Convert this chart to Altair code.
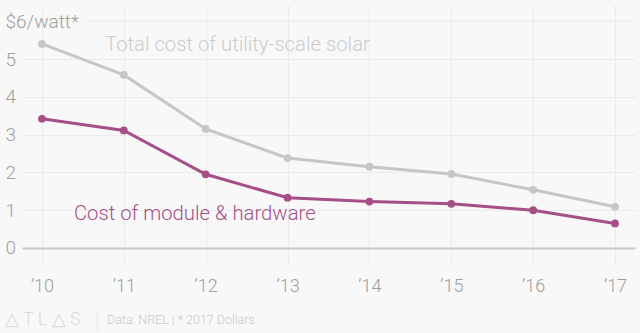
import altair as alt
import pandas as pd

years = [2010, 2011, 2012, 2013, 2014, 2015, 2016, 2017]
total_cost = [5.40, 4.58, 3.15, 2.38, 2.15, 1.96, 1.54, 1.09]
module_cost = [3.42, 3.11, 1.95, 1.33, 1.23, 1.17, 1.00, 0.65]
series_names = ["Total cost of utility-scale solar", "Cost of module & hardware"]
series_colors = ["#c6c6c6", "#a54f87"]
label_colors = ["#cccccc", "#a54f87"]
y_ticks = [0, 1, 2, 3, 4, 5, 6]

rows = []
for y, t, m in zip(years, total_cost, module_cost):
    rows.append({"year": y, "value": t, "series": series_names[0]})
    rows.append({"year": y, "value": m, "series": series_names[1]})
df = pd.DataFrame(rows)

FONT = "Roboto"
W, H = 613, 260

xscale = alt.Scale(domain=[2009.756, 2017.244], nice=False, zero=False)
yscale = alt.Scale(domain=[-0.45, 6.43], nice=False, zero=False)

color = alt.Color("series:N", scale=alt.Scale(domain=series_names, range=series_colors), legend=None)

base = alt.Chart(df).encode(
    x=alt.X("year:Q", scale=xscale, axis=alt.Axis(
        values=years, format="d", labelExpr="'\u2019' + slice(toString(datum.value), 2)",
        title=None, domain=False, ticks=False, labelPadding=12, labelFontSize=18,
        labelColor="#9e9e9e", labelFont=FONT, labelFontWeight=300,
        grid=True, gridColor="#ebebeb", gridWidth=1)),
    y=alt.Y("value:Q", scale=yscale, axis=alt.Axis(
        values=y_ticks, title=None, domain=False, ticks=False,
        labelAlign="left", labelPadding=17, labelBaseline="middle",
        labelExpr="datum.value == 6 ? '$6/watt*' : datum.label",
        labelFontSize=19, labelColor="#9e9e9e", labelFont=FONT, labelFontWeight=300,
        grid=True,
        gridColor={"condition": [{"test": "datum.value === 6", "value": "transparent"},
                                 {"test": "datum.value === 0", "value": "#c8c8c8"}],
                   "value": "#ebebeb"},
        gridWidth={"condition": {"test": "datum.value === 0", "value": 2}, "value": 1})),
    color=color,
)

lines = base.mark_line(strokeWidth=3)
points = base.mark_circle(size=60, opacity=1)

grid6 = alt.Chart(pd.DataFrame({"v": [6]})).mark_rule(color="#ebebeb", strokeWidth=1).encode(
    y=alt.Y("v:Q", scale=yscale), x=alt.value(66), x2=alt.value(W))

ann = pd.DataFrame({
    "x": [2010.77, 2010.39],
    "y": [5.37, 0.90],
    "t": series_names,
    "c": label_colors,
})
labels = alt.Chart(ann).mark_text(align="left", baseline="middle", fontSize=20.3, font=FONT, fontWeight=300).encode(
    x=alt.X("x:Q", scale=xscale), y=alt.Y("y:Q", scale=yscale),
    text="t:N", color=alt.Color("c:N", scale=None))

footer_logo = alt.Chart(pd.DataFrame({"t": ["\u25b3 T L \u25b3 S"]})).mark_text(
    align="left", baseline="middle", fontSize=18, font=FONT, fontWeight=300, color="#d8d8d8").encode(
    text="t:N", x=alt.value(-17), y=alt.value(315))
footer_sep = alt.Chart(pd.DataFrame({"t": ["|"]})).mark_text(
    align="left", baseline="middle", fontSize=22, font=FONT, fontWeight=100, color="#d8d8d8").encode(
    text="t:N", x=alt.value(73), y=alt.value(315))
footer_src = alt.Chart(pd.DataFrame({"t": ["Data: NREL | * 2017 Dollars"]})).mark_text(
    align="left", baseline="middle", fontSize=12.5, font=FONT, fontWeight=300, color="#c8c8c8").encode(
    text="t:N", x=alt.value(85), y=alt.value(315))

chart = alt.layer(grid6, lines, points, labels, footer_logo, footer_sep, footer_src).properties(
    width=W, height=H,
    autosize=alt.AutoSizeParams(type="none"),
    padding={"left": 22, "top": 5, "right": 5, "bottom": 68},
    background="#f8f8f8",
).configure_view(stroke=None)

chart.save("out.html", embed_options={"renderer": "svg", "actions": False})
